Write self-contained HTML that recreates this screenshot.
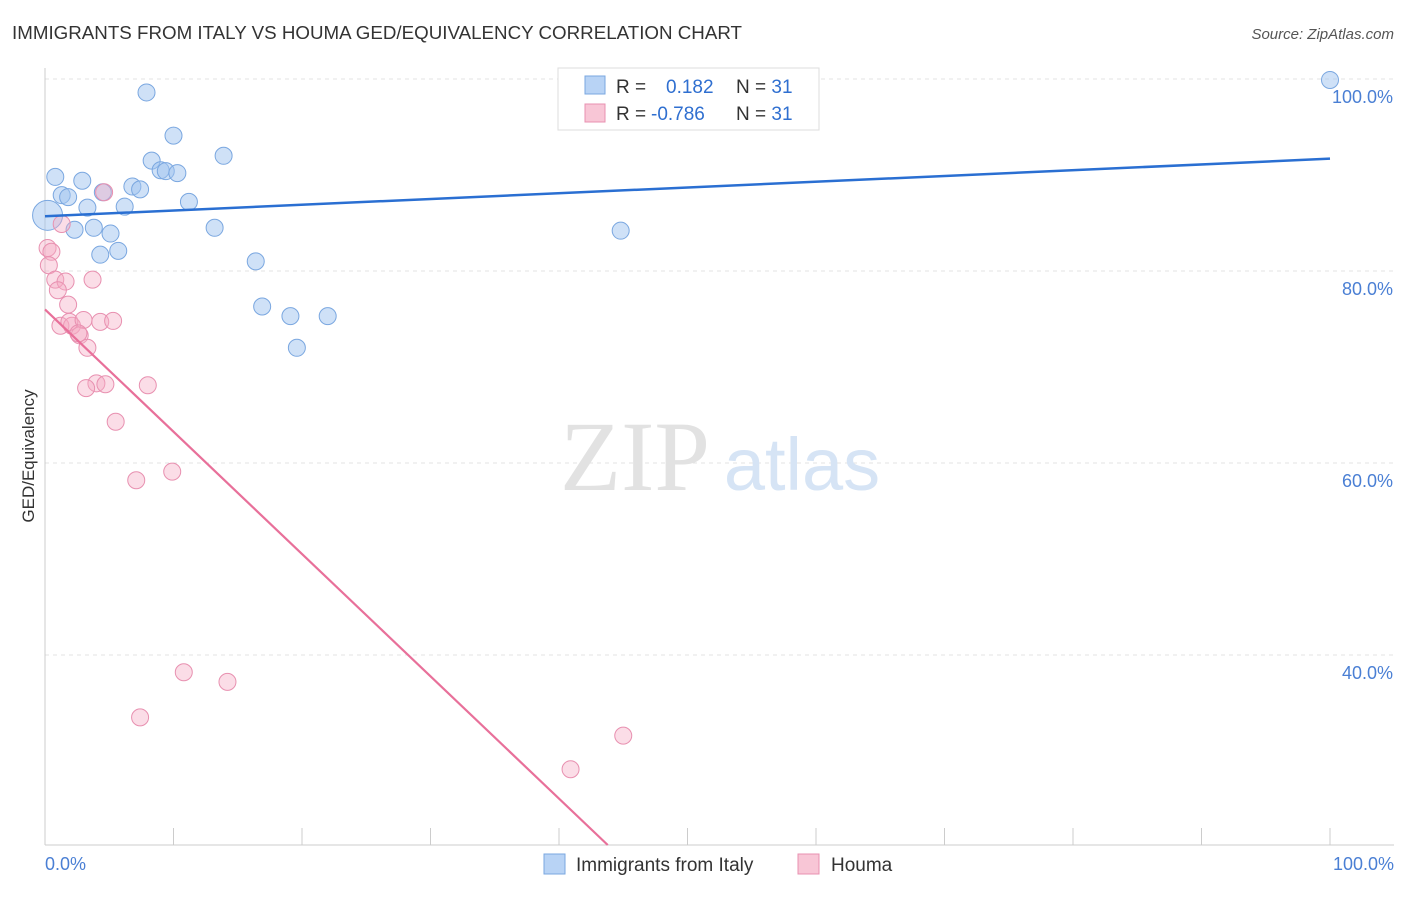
<!DOCTYPE html>
<html><head><meta charset="utf-8"><style>
body{margin:0;background:#fff;font-family:"Liberation Sans",sans-serif;}
svg text{font-family:"Liberation Sans",sans-serif;}
</style></head><body>
<svg width="1406" height="892" id="chart">
<text x="12" y="39" font-size="18" fill="#333" textLength="730" lengthAdjust="spacingAndGlyphs">IMMIGRANTS FROM ITALY VS HOUMA GED/EQUIVALENCY CORRELATION CHART</text>
<text x="1394" y="39" font-size="15" fill="#555" font-style="italic" text-anchor="end">Source: ZipAtlas.com</text>
<g id="grid"></g>
<g><text x="635" y="490" font-size="100" fill="#e2e2e2" text-anchor="middle" style="font-family:'Liberation Serif',serif">ZIP</text><text x="802" y="490" font-size="74" fill="#d6e4f5" text-anchor="middle">atlas</text></g>
<text transform="translate(34,456) rotate(-90)" font-size="17" fill="#333" text-anchor="middle">GED/Equivalency</text>
<g id="marks"></g>
<g>
<rect x="558" y="68" width="261" height="62" fill="#fff" stroke="#ddd"/>
<rect x="585" y="76" width="20" height="18" fill="#b8d3f5" stroke="#7aa7e0"/>
<rect x="585" y="104" width="20" height="18" fill="#f8c6d6" stroke="#e890b0"/>
<text x="616" y="93" font-size="19" fill="#333">R = <tspan fill="#2f6fd0" x="666">0.182</tspan><tspan x="736" fill="#333">N = </tspan><tspan fill="#2f6fd0">31</tspan></text>
<text x="616" y="120" font-size="19" fill="#333">R = <tspan fill="#2f6fd0" x="651">-0.786</tspan><tspan x="736" fill="#333">N = </tspan><tspan fill="#2f6fd0">31</tspan></text>
</g>
<g>
<rect x="544" y="854" width="21" height="20" fill="#b8d3f5" stroke="#7aa7e0"/>
<text x="576" y="871" font-size="19" fill="#333">Immigrants from Italy</text>
<rect x="798" y="854" width="21" height="20" fill="#f8c6d6" stroke="#e890b0"/>
<text x="831" y="871" font-size="19" fill="#333">Houma</text>
</g>
</svg>
<script>
const blueX=[7.9,10.0,13.9,8.3,9.0,9.4,10.3,0.8,2.9,6.8,7.4,4.5,1.3,1.8,11.2,3.3,6.2,0.2,2.3,3.8,13.2,5.1,5.7,4.3,16.4,16.9,19.1,22.0,19.6,44.8,100];
const blueY=[98.6,94.1,92.0,91.5,90.5,90.4,90.2,89.8,89.4,88.8,88.5,88.2,87.9,87.7,87.2,86.6,86.7,85.8,84.3,84.5,84.5,83.9,82.1,81.7,81.0,76.3,75.3,75.3,72.0,84.2,99.9];
const pinkX=[0.2,0.5,0.3,0.8,1.6,1.0,3.7,4.6,1.3,1.8,1.2,2.1,1.9,3.0,4.3,5.3,2.7,2.6,3.3,4.0,3.2,4.7,8.0,5.5,7.1,9.9,10.8,14.2,7.4,40.9,45.0];
const pinkY=[82.4,82.0,80.6,79.1,78.9,78.0,79.1,88.2,84.9,76.5,74.3,74.3,74.7,74.9,74.7,74.8,73.3,73.5,72.0,68.3,67.8,68.2,68.1,64.3,58.2,59.1,38.2,37.2,33.5,28.1,31.6];
const blueTrend=[85.7,91.7];
const pinkTrend=[76.0,-51.4];
const yTicks=[100,80,60,40];
const xTickVals=[0,10,20,30,40,50,60,70,80,90,100];
const NS="http://www.w3.org/2000/svg";
const sx=v=>45+v*12.85, sy=v=>79+(100-v)*9.6;
const svg=document.getElementById('chart'),grid=document.getElementById('grid'),marks=document.getElementById('marks');
function mk(t,a,p){const e=document.createElementNS(NS,t);for(const k in a)e.setAttribute(k,a[k]);(p||svg).appendChild(e);return e;}
yTicks.forEach(v=>{
 const l=mk('line',{x1:45,x2:1394,y1:sy(v),y2:sy(v),stroke:'#e3e3e3','stroke-dasharray':'4,4'},grid);
 
 
 const t=mk('text',{x:1393,y:sy(v)+24,'font-size':18,fill:'#4a7fd4','text-anchor':'end'},grid);t.textContent=v.toFixed(1)+'%';
 
 
});
const ax=mk('line',{x1:45,x2:1394,y1:845,y2:845,stroke:'#ccc'},grid);


const ay=mk('line',{x1:45,x2:45,y1:68,y2:845,stroke:'#ccc'},grid);


xTickVals.forEach(v=>{const l=mk('line',{x1:sx(v),x2:sx(v),y1:828,y2:845,stroke:'#ccc'},grid);
 
 });
[[0,'0.0%','start',45],[100,'100.0%','end',1394]].forEach(d=>{const t=mk('text',{x:d[3],y:870,'font-size':18,fill:'#4a7fd4','text-anchor':d[2]},grid);t.textContent=d[1];
 
 });
blueX.forEach((x,i)=>{const c=mk('circle',{cx:sx(x),cy:sy(blueY[i]),r:i==17?15:8.5,fill:'rgba(160,195,240,0.5)',stroke:'#7aa7e0','stroke-width':1},marks);
 
 });
pinkX.forEach((x,i)=>{const c=mk('circle',{cx:sx(x),cy:sy(pinkY[i]),r:8.5,fill:'rgba(245,170,195,0.4)',stroke:'#e890b0','stroke-width':1},marks);
 
 });
const bl=mk('line',{x1:sx(0),y1:sy(blueTrend[0]),x2:sx(100),y2:sy(blueTrend[1]),stroke:'#2a6fd2','stroke-width':2.5},marks);


const ymin=100-(845-79)/9.6, slope=(pinkTrend[1]-pinkTrend[0])/100, xEnd=(ymin-pinkTrend[0])/slope;
const pl=mk('line',{x1:sx(0),y1:sy(pinkTrend[0]),x2:sx(xEnd),y2:sy(ymin),stroke:'#e8709a','stroke-width':2.2},marks);


</script>
</body></html>
